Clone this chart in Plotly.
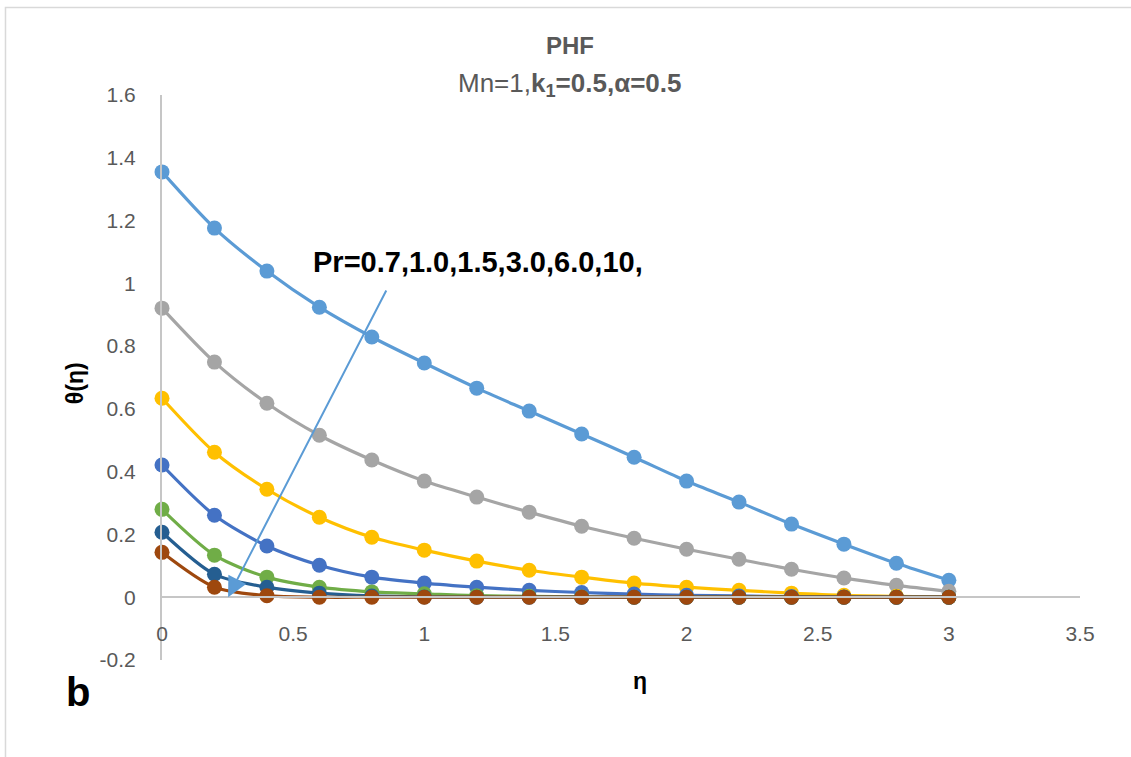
import plotly.graph_objects as go

eta = [0.0, 0.2, 0.4, 0.6, 0.8, 1.0, 1.2, 1.4, 1.6, 1.8, 2.0, 2.2, 2.4, 2.6, 2.8, 3.0]
pr_0_7 = [1.355, 1.176, 1.039, 0.924, 0.829, 0.746, 0.666, 0.593, 0.520, 0.446, 0.370, 0.303, 0.233, 0.169, 0.108, 0.054]
pr_1_0 = [0.921, 0.749, 0.618, 0.516, 0.437, 0.370, 0.319, 0.271, 0.226, 0.188, 0.153, 0.121, 0.089, 0.061, 0.038, 0.019]
pr_1_5 = [0.634, 0.462, 0.344, 0.255, 0.191, 0.150, 0.115, 0.086, 0.064, 0.045, 0.032, 0.022, 0.013, 0.006, 0.003, 0.000]
pr_3_0 = [0.421, 0.261, 0.163, 0.102, 0.064, 0.045, 0.032, 0.022, 0.015, 0.010, 0.006, 0.004, 0.002, 0.001, 0.000, 0.000]
pr_6_0 = [0.280, 0.134, 0.064, 0.032, 0.017, 0.011, 0.005, 0.003, 0.001, 0.000, 0.000, 0.000, 0.000, 0.000, 0.000, 0.000]
pr_10 = [0.207, 0.073, 0.032, 0.013, 0.004, 0.001, 0.000, 0.000, 0.000, 0.000, 0.000, 0.000, 0.000, 0.000, 0.000, 0.000]
pr_last = [0.143, 0.032, 0.005, 0.000, 0.000, 0.000, 0.000, 0.000, 0.000, 0.000, 0.000, 0.000, 0.000, 0.000, 0.000, 0.000]

series_names = ["Pr=0.7", "Pr=1.0", "Pr=1.5", "Pr=3.0", "Pr=6.0", "Pr=10", "Pr"]
series_values = [pr_0_7, pr_1_0, pr_1_5, pr_3_0, pr_6_0, pr_10, pr_last]
series_colors = ["#5B9BD5", "#A5A5A5", "#FFC000", "#4472C4", "#70AD47", "#255E91", "#9E480E"]

x_tickvals = [0, 0.5, 1, 1.5, 2, 2.5, 3, 3.5]
x_ticktext = ["0", "0.5", "1", "1.5", "2", "2.5", "3", "3.5"]
y_tickvals = [-0.2, 0, 0.2, 0.4, 0.6, 0.8, 1.0, 1.2, 1.4, 1.6]
y_ticktext = ["-0.2", "0", "0.2", "0.4", "0.6", "0.8", "1", "1.2", "1.4", "1.6"]

FONT = "Liberation Sans, Arial, sans-serif"
GRAY = "#595959"
AXIS = "#C6C6C6"

fig = go.Figure()
for name, vals, col in zip(series_names, series_values, series_colors):
    fig.add_trace(go.Scatter(
        x=eta, y=vals, name=name, mode="lines+markers",
        line=dict(color=col, width=3.2, shape="spline", smoothing=0.8),
        marker=dict(color=col, size=15),
        cliponaxis=False,
    ))

fig.update_layout(
    width=1131, height=757,
    margin=dict(l=162, r=51, t=95, b=97),
    paper_bgcolor="white", plot_bgcolor="white",
    showlegend=False,
    font=dict(family=FONT, color=GRAY, size=21),
    xaxis=dict(
        range=[0, 3.5], tickvals=x_tickvals, ticktext=x_ticktext,
        showgrid=False, zeroline=False, showline=True, linecolor=AXIS, linewidth=2,
        anchor="free", position=0.2 / 1.8, ticks="", ticklabelstandoff=18,
        tickfont=dict(size=21, color=GRAY, family=FONT),
    ),
    yaxis=dict(
        range=[-0.2, 1.6], tickvals=y_tickvals, ticktext=y_ticktext,
        showgrid=False, zeroline=False, showline=True, linecolor=AXIS, linewidth=2,
        ticks="", ticklabelstandoff=20,
        tickfont=dict(size=21, color=GRAY, family=FONT),
    ),
)

# chart border
fig.add_shape(type="rect", xref="paper", yref="paper",
              x0=-0.1705, x1=1.2, y0=-0.4, y1=1.1549,
              line=dict(color="#D9D9D9", width=1.5), fillcolor="rgba(0,0,0,0)", layer="below")

# titles
fig.add_annotation(xref="paper", yref="paper", x=0.4444, y=(660 - 45) / 565,
                   text="<b>PHF</b>", showarrow=False, xanchor="center", yanchor="middle",
                   font=dict(size=24, color=GRAY, family=FONT))
fig.add_annotation(xref="paper", yref="paper", x=0.4444, y=(660 - 84) / 565,
                   text="Mn=1,<b>k<sub>1</sub>=0.5,α=0.5</b>", showarrow=False,
                   xanchor="center", yanchor="middle",
                   font=dict(size=26, color=GRAY, family=FONT))

# axis titles
fig.add_annotation(xref="paper", yref="paper", x=(75 - 162) / 918, y=0.49,
                   text="<b>θ(η)</b>", textangle=-90, showarrow=False,
                   xanchor="center", yanchor="middle",
                   font=dict(size=23, color="black", family=FONT))
fig.add_annotation(xref="paper", yref="paper", x=(640 - 162) / 918, y=(660 - 681) / 565,
                   text="<b>η</b>", showarrow=False, xanchor="center", yanchor="middle",
                   font=dict(size=23, color="black", family=FONT))
fig.add_annotation(xref="paper", yref="paper", x=(78 - 162) / 918, y=(660 - 692) / 565,
                   text="<b>b</b>", showarrow=False, xanchor="center", yanchor="middle",
                   font=dict(size=40, color="black", family=FONT))

# Pr label and arrow
fig.add_annotation(x=1.203, y=1.068, xref="x", yref="y",
                   text="<b>Pr=0.7,1.0,1.5,3.0,6.0,10,</b>", showarrow=False,
                   xanchor="center", yanchor="middle",
                   font=dict(size=29, color="black", family=FONT))
fig.add_annotation(x=0.252, y=0.0, xref="x", yref="y",
                   ax=0.858, ay=0.982, axref="x", ayref="y",
                   text="", showarrow=True, arrowhead=2, arrowsize=2, arrowwidth=2,
                   arrowcolor="#5B9BD5")

fig.write_html("out.html")
